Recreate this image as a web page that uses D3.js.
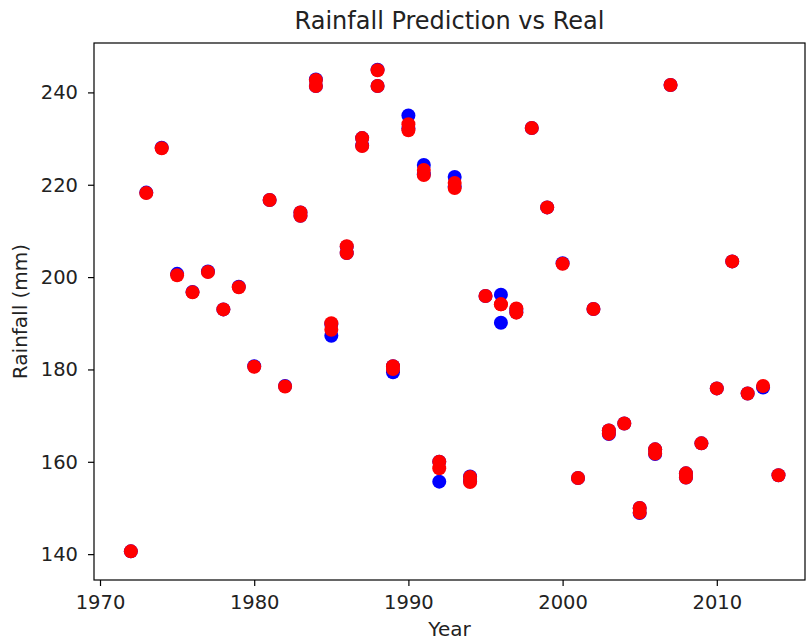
<!DOCTYPE html>
<html>
<head>
<meta charset="utf-8">
<script src="https://cdn.jsdelivr.net/npm/d3@7"></script>
<style>
  body { margin: 0; background: #fff; }
  text { font-family: "DejaVu Sans", sans-serif; fill: #222; }
</style>
</head>
<body>
<div id="viz"></div>
<script>
// one row per observation: year, real rainfall, predicted rainfall
var years = [1972, 1973, 1974, 1975, 1976, 1977, 1978, 1979, 1980, 1981, 1982,
    1983, 1983, 1984, 1984, 1985, 1985, 1986, 1986, 1987, 1987, 1988, 1988,
    1989, 1989, 1990, 1990, 1991, 1991, 1992, 1992, 1993, 1993, 1994, 1994,
    1995, 1996, 1996, 1997, 1997, 1998, 1999, 2000, 2001, 2002, 2003, 2003,
    2004, 2005, 2005, 2006, 2006, 2007, 2008, 2008, 2009, 2010, 2011, 2012,
    2013, 2014];
var real = [140.6, 218.3, 228.0, 200.7, 196.8, 201.2, 193.0, 197.9, 180.7, 216.7, 176.4,
    214.0, 213.3, 242.8, 241.4, 189.8, 187.3, 206.6, 205.2, 230.1, 228.5, 244.9, 241.4,
    180.7, 179.4, 235.0, 232.2, 224.3, 222.3, 160.0, 155.7, 221.7, 219.6, 156.8, 155.8,
    195.9, 196.2, 190.1, 193.1, 192.4, 232.3, 215.1, 203.0, 156.5, 193.1, 166.8, 166.0,
    168.3, 150.0, 148.9, 162.7, 161.7, 241.6, 157.5, 156.6, 164.0, 175.9, 203.4, 174.8,
    176.1, 157.1];
var predicted = [140.6, 218.2, 227.9, 200.4, 196.7, 201.1, 193.0, 197.8, 180.6, 216.7, 176.3,
    214.0, 213.3, 242.7, 241.4, 190.0, 188.6, 206.7, 205.2, 230.1, 228.4, 244.8, 241.4,
    180.7, 180.1, 233.1, 231.8, 223.2, 222.1, 160.0, 158.6, 220.4, 219.3, 156.7, 155.6,
    195.9, 194.1, 194.1, 193.2, 192.3, 232.3, 215.1, 202.9, 156.5, 193.1, 166.8, 166.1,
    168.3, 150.0, 149.0, 162.7, 161.8, 241.6, 157.5, 156.6, 164.0, 175.9, 203.4, 174.8,
    176.4, 157.1];
var xTicks = [1970, 1980, 1990, 2000, 2010];
var yTicks = [140, 160, 180, 200, 220, 240];

var canw = 806, canh = 641;
var padL = 94, padR = 805, padT = 43, padB = 580;

var svg = d3.select("#viz")
    .append("svg")
    .attr("width", canw)
    .attr("height", canh);

var x = d3.scaleLinear().domain([1969.61, 2015.72]).range([padL, padR]);
var y = d3.scaleLinear().domain([134.4, 250.7]).range([padB, padT]);

var rows = years.map(function(yr, i){
    return {year: yr, real: real[i], pred: predicted[i]};
});

// real values first, predictions drawn over them
svg.append("g").selectAll("circle")
    .data(rows).enter().append("circle")
    .attr("cx", function(d){ return x(d.year); })
    .attr("cy", function(d){ return y(d.real); })
    .attr("r", 7)
    .style("fill", "#0000ff");

svg.append("g").selectAll("circle")
    .data(rows).enter().append("circle")
    .attr("cx", function(d){ return x(d.year); })
    .attr("cy", function(d){ return y(d.pred); })
    .attr("r", 7)
    .style("fill", "#ff0000");

var xAxis = svg.append("g")
    .attr("transform", "translate(0," + padB + ")")
    .call(d3.axisBottom(x).tickValues(xTicks).tickFormat(d3.format("d"))
        .tickSize(6).tickPadding(9).tickSizeOuter(0));
var yAxis = svg.append("g")
    .attr("transform", "translate(" + padL + ",0)")
    .call(d3.axisLeft(y).tickValues(yTicks).tickSize(6).tickPadding(10).tickSizeOuter(0));

[xAxis, yAxis].forEach(function(a){
    a.select(".domain").remove();
    a.selectAll("line").style("stroke", "#000").style("stroke-width", 1.2);
    a.selectAll("text").style("font-size", "19.5px").style("fill", "#222")
        .style("font-family", "'DejaVu Sans', sans-serif");
});

// frame
svg.append("rect")
    .attr("x", padL).attr("y", padT)
    .attr("width", padR - padL).attr("height", padB - padT)
    .style("fill", "none").style("stroke", "#000").style("stroke-width", 1.2);

svg.append("text")
    .attr("x", (padL + padR) / 2).attr("y", 29)
    .attr("text-anchor", "middle")
    .style("font-size", "24px")
    .text("Rainfall Prediction vs Real");

svg.append("text")
    .attr("x", (padL + padR) / 2).attr("y", 636)
    .attr("text-anchor", "middle")
    .style("font-size", "20px")
    .text("Year");

svg.append("text")
    .attr("transform", "translate(27," + ((padT + padB) / 2) + ") rotate(-90)")
    .attr("text-anchor", "middle")
    .style("font-size", "20px")
    .text("Rainfall (mm)");
</script>
</body>
</html>
